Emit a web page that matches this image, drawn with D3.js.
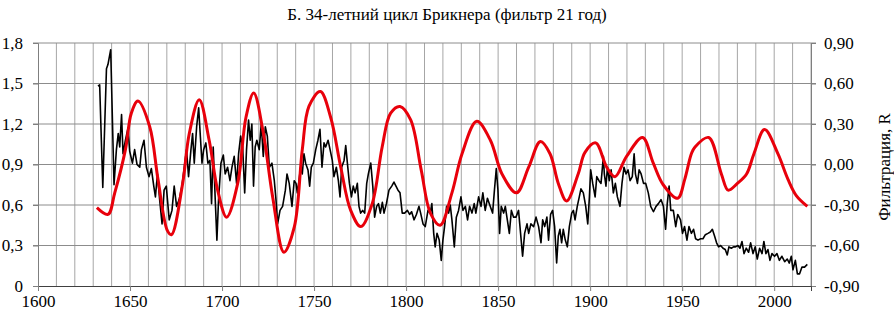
<!DOCTYPE html>
<html>
<head>
<meta charset="utf-8">
<script src="https://cdn.jsdelivr.net/npm/d3@7"></script>
<style>
  body { margin: 0; background: #fff; }
  text { font-family: "Liberation Serif", "Times New Roman", serif; fill: #000; }
</style>
</head>
<body>
<div id="chart"></div>
<script>
// ---- data ----
const title = 'Б.  34-летний цикл Брикнера (фильтр 21 год)';
const rightTitle = 'Фильтрация, R';

const yearTicks = [1600, 1650, 1700, 1750, 1800, 1850, 1900, 1950, 2000];
const leftTicks = [0, 0.3, 0.6, 0.9, 1.2, 1.5, 1.8];
const leftLabels = ['0', '0,3', '0,6', '0,9', '1,2', '1,5', '1,8'];
const rightTicks = [-0.9, -0.6, -0.3, 0, 0.3, 0.6, 0.9];
const rightLabels = ['-0,90', '-0,60', '-0,30', '0,00', '0,30', '0,60', '0,90'];

// black: annual index (left axis)
const index = [
  [1632.6,1.48],[1633.5,1.49],[1635.2,0.73],[1637.2,1.61],[1638,1.64],[1639.5,1.75],[1641.3,0.75],
  [1642.6,1.01],[1643.6,1.13],[1644.4,1.03],[1645.4,1.27],[1646.2,0.98],[1647.5,1.08],[1648.9,1.17],
  [1649.8,1.0],[1651.3,0.91],[1652.5,1.01],[1653.8,0.9],[1655.3,0.88],[1656.2,1.01],[1657.6,1.08],
  [1658.9,0.88],[1660.3,0.81],[1661.6,0.87],[1662.9,0.74],[1663.8,0.66],[1664.9,0.83],[1666.1,0.64],
  [1667.4,0.46],[1668.5,0.71],[1669.7,0.74],[1671.3,0.49],[1672.8,0.56],[1674,0.74],[1675.3,0.59],
  [1676.7,0.64],[1678.2,0.74],[1679.5,0.88],[1680.7,1.01],[1681.8,0.81],[1683.1,1.01],[1684,1.13],
  [1684.9,0.91],[1686.2,1.18],[1687.3,1.32],[1688.2,1.11],[1689.1,0.91],[1690,1.01],[1691.2,1.06],
  [1692.3,0.91],[1693.4,0.93],[1694.3,0.61],[1695.2,1.03],[1696.3,0.64],[1697.2,0.34],[1698.1,0.64],
  [1699.4,0.91],[1700.7,0.97],[1701.7,0.83],[1703,0.88],[1704.3,0.78],[1705.4,0.88],[1706.6,0.96],
  [1707.9,0.76],[1709,0.98],[1710.1,1.11],[1711.2,1.03],[1712.3,0.69],[1713.3,1.01],[1714.4,1.23],
  [1715.3,1.08],[1716.2,1.2],[1717.1,0.74],[1718,1.03],[1718.9,1.08],[1720.2,1.01],[1721.3,1.2],
  [1722.4,0.96],[1723.5,1.18],[1724.6,1.11],[1725.7,0.88],[1727.1,0.91],[1728.4,0.78],[1729.3,0.64],
  [1730.2,0.46],[1731.5,0.56],[1732.9,0.59],[1734.4,0.71],[1735.3,0.83],[1736.5,0.76],[1738,0.59],
  [1739.2,0.78],[1740.2,0.76],[1740.9,0.69],[1741.8,0.78],[1742.7,0.88],[1743.6,0.83],[1744.5,0.98],
  [1745.4,0.91],[1746.7,0.86],[1747.6,0.74],[1748.5,0.88],[1749.6,0.91],[1750.9,1.01],[1752.1,1.08],
  [1753.2,1.16],[1754.3,0.88],[1755.4,1.06],[1756.3,1.03],[1757.6,1.08],[1758.7,1.01],[1759.9,0.93],
  [1760.8,0.81],[1762.1,0.88],[1763.2,0.78],[1764.1,0.66],[1765,0.88],[1766.3,0.93],[1767.2,1.04],
  [1768.1,0.91],[1769.2,0.76],[1770.3,0.66],[1771.3,0.74],[1772.3,0.69],[1773.5,0.76],[1774.4,0.59],
  [1775.3,0.54],[1776.4,0.56],[1777.5,0.54],[1778.6,0.76],[1779.5,0.83],[1780.8,0.91],[1781.9,0.74],
  [1782.9,0.51],[1784,0.59],[1785,0.61],[1786,0.54],[1787.1,0.62],[1788,0.54],[1789.3,0.61],
  [1790.7,0.71],[1792.2,0.74],[1793.4,0.77],[1794.5,0.74],[1795.6,0.71],[1796.7,0.69],[1797.9,0.54],
  [1799.2,0.54],[1800.7,0.56],[1801.9,0.53],[1803,0.55],[1804.3,0.49],[1805.6,0.53],[1807,0.59],
  [1807.9,0.54],[1809.2,0.46],[1810.4,0.44],[1811.9,0.56],[1813.1,0.54],[1814,0.61],[1815,0.39],
  [1815.8,0.29],[1816.8,0.39],[1818,0.34],[1819.1,0.19],[1820,0.34],[1820.9,0.44],[1822,0.59],
  [1823.1,0.54],[1824,0.6],[1824.9,0.49],[1826.2,0.29],[1827.3,0.51],[1828.5,0.56],[1829.8,0.66],
  [1830.9,0.56],[1832.2,0.59],[1833.4,0.49],[1834.5,0.59],[1835.8,0.54],[1837,0.61],[1837.9,0.54],
  [1839.4,0.66],[1840.7,0.59],[1841.7,0.69],[1843,0.56],[1844.2,0.65],[1845.7,0.59],[1847,0.54],
  [1848,0.71],[1849,0.87],[1849.9,0.71],[1850.8,0.39],[1851.7,0.59],[1853,0.54],[1853.9,0.59],
  [1855,0.49],[1856.1,0.39],[1857.2,0.56],[1858.4,0.51],[1859.7,0.51],[1861.1,0.56],[1862.2,0.39],
  [1863.3,0.22],[1864.4,0.39],[1865.7,0.46],[1866.6,0.39],[1867.8,0.46],[1869.3,0.44],[1870.6,0.51],
  [1872,0.44],[1873.3,0.32],[1874.2,0.49],[1875.3,0.44],[1876.5,0.51],[1877.4,0.34],[1878.5,0.53],
  [1879.6,0.56],[1880.7,0.44],[1881.8,0.17],[1882.7,0.37],[1883.6,0.42],[1884.5,0.32],[1885.4,0.42],
  [1886.5,0.34],[1887.6,0.29],[1888.7,0.44],[1890,0.54],[1890.9,0.56],[1891.8,0.49],[1893,0.59],
  [1894.1,0.66],[1895,0.72],[1896.3,0.69],[1897.6,0.59],[1898.7,0.46],[1899.6,0.66],[1900.3,0.86],
  [1901.4,0.76],[1902.7,0.66],[1903.6,0.81],[1904.8,0.78],[1905.9,0.76],[1907.2,0.96],[1907.7,0.83],
  [1908.6,0.74],[1909.4,0.88],[1910.4,0.78],[1911.4,0.86],[1912.6,0.69],[1913.7,0.76],[1914.8,0.66],
  [1916.2,0.59],[1917.3,0.76],[1918.4,0.88],[1919.5,0.83],[1920.6,0.86],[1921.7,0.78],[1922.9,0.81],
  [1923.9,0.98],[1924.6,0.83],[1925.7,0.76],[1926.6,0.86],[1927.7,0.83],[1929,0.76],[1930.2,0.76],
  [1931.6,0.69],[1932.9,0.59],[1934.4,0.55],[1935.8,0.59],[1937.1,0.61],[1938.5,0.64],[1939.8,0.59],
  [1941,0.42],[1941.9,0.61],[1942.9,0.74],[1943.8,0.56],[1945.2,0.56],[1946.5,0.44],[1947.6,0.53],
  [1949.1,0.49],[1950.2,0.39],[1951.3,0.44],[1952.6,0.34],[1953.7,0.44],[1955,0.39],[1956.2,0.42],
  [1957.3,0.35],[1958.6,0.34],[1960,0.35],[1961.3,0.35],[1962.6,0.38],[1964,0.39],[1965.3,0.4],
  [1966.4,0.42],[1967.6,0.37],[1968.7,0.32],[1969.8,0.29],[1970.9,0.3],[1972.2,0.28],[1973.4,0.27],
  [1974.5,0.23],[1975.4,0.29],[1976.7,0.28],[1977.9,0.29],[1979,0.29],[1980.3,0.3],[1981.4,0.28],
  [1982.5,0.33],[1983.6,0.24],[1984.8,0.28],[1986.1,0.25],[1987.2,0.32],[1988.5,0.24],[1989.7,0.29],
  [1990.8,0.2],[1992.1,0.28],[1993.4,0.24],[1994.4,0.33],[1995.5,0.24],[1996.6,0.27],[1997.7,0.19],
  [1998.8,0.24],[2000.2,0.22],[2001.5,0.24],[2002.8,0.19],[2004.2,0.22],[2005.7,0.18],[2007.1,0.2],
  [2008.2,0.17],[2009.3,0.22],[2010.2,0.12],[2011.5,0.19],[2012.6,0.09],[2013.8,0.09],[2015.1,0.14],
  [2016.5,0.14],[2018,0.16]
];

// red: 21-year filter (right axis, R)
const filtered = [
  [1632,-0.32],[1638,-0.37],[1641.7,-0.21],[1647.5,0.11],[1650.7,0.38],[1654.3,0.47],[1660.7,0.28],
  [1665.2,-0.11],[1670.3,-0.49],[1672.5,-0.52],[1678.6,-0.14],[1682.2,0.23],[1687.6,0.48],[1693,0.18],
  [1697.6,-0.19],[1702.5,-0.39],[1708.5,-0.14],[1713,0.35],[1717.2,0.53],[1722.1,0.26],[1727.5,-0.24],
  [1733.6,-0.65],[1739.3,-0.46],[1743.6,0.11],[1747.2,0.43],[1753.4,0.54],[1759,0.35],[1764.5,-0.02],
  [1769.9,-0.34],[1775.4,-0.46],[1781.6,-0.29],[1787,0.13],[1791.6,0.38],[1796.7,0.43],[1802.5,0.33],
  [1808.2,-0.04],[1813.2,-0.36],[1818.5,-0.45],[1824.9,-0.21],[1830.4,0.08],[1838.4,0.32],[1845.8,0.18],
  [1852.1,-0.07],[1860,-0.21],[1866.6,-0.02],[1873,0.17],[1878.2,0.08],[1882.7,-0.14],[1887.2,-0.27],
  [1893.5,-0.07],[1897.2,0.09],[1903,0.16],[1909,-0.02],[1913.5,-0.09],[1919.8,0.06],[1928.5,0.2],
  [1934.3,0.01],[1939.7,-0.15],[1947.6,-0.25],[1951.4,-0.11],[1955,0.08],[1957,0.13],[1964.4,0.2],
  [1971.3,-0.07],[1975,-0.19],[1980,-0.14],[1985,-0.07],[1989,0.08],[1994.8,0.26],[2002,0.08],
  [2007.5,-0.11],[2012,-0.23],[2018,-0.31]
];

// ---- layout ----
const width = 894, height = 314;
const margin = { top: 43, right: 83, bottom: 28, left: 38 };
const w = width - margin.left - margin.right;
const h = height - margin.top - margin.bottom;

const svg = d3.select('#chart').append('svg').attr('width', width).attr('height', height);
const g = svg.append('g').attr('transform', `translate(${margin.left},${margin.top})`);

const x = d3.scaleLinear().domain([1600, 2020]).range([0, w]);
const yL = d3.scaleLinear().domain([0, 1.8]).range([h, 0]);
const yR = d3.scaleLinear().domain([-0.9, 0.9]).range([h, 0]);

// grid
g.append('g').selectAll('line').data(d3.range(1610, 2021, 10)).enter().append('line')
  .attr('x1', d => x(d)).attr('x2', d => x(d)).attr('y1', 0).attr('y2', h)
  .attr('stroke', '#a6a6a6').attr('stroke-width', 1);
g.append('g').selectAll('line').data(leftTicks.slice(1)).enter().append('line')
  .attr('x1', -5).attr('x2', w + 5).attr('y1', d => yL(d)).attr('y2', d => yL(d))
  .attr('stroke', '#8c8c8c').attr('stroke-width', 1);

// axes
const axL = g.append('g').call(d3.axisLeft(yL).tickValues(leftTicks).tickSize(5)
  .tickFormat((d, i) => leftLabels[i]).tickPadding(10));
const axR = g.append('g').attr('transform', `translate(${w},0)`)
  .call(d3.axisRight(yR).tickValues(rightTicks).tickSize(5)
  .tickFormat((d, i) => rightLabels[i]).tickPadding(8));
const axB = g.append('g').attr('transform', `translate(0,${h})`)
  .call(d3.axisBottom(x).tickValues(yearTicks).tickSize(5).tickFormat(d3.format('d')).tickPadding(4));

[axL, axR, axB].forEach(a => {
  a.attr('font-family', null);
  a.select('.domain').attr('stroke', '#7f7f7f');
  a.selectAll('.tick line').attr('stroke', '#7f7f7f');
  a.selectAll('text').style('font-size', '17px').style('font-family', '"Liberation Serif", "Times New Roman", serif');
});
axB.select('.domain').attr('stroke', '#404040');

// lines
g.append('path').datum(index)
  .attr('fill', 'none').attr('stroke', '#000').attr('stroke-width', 1.6).attr('stroke-linejoin', 'round')
  .attr('d', d3.line().x(d => x(d[0])).y(d => yL(d[1])));

g.append('path').datum(filtered)
  .attr('fill', 'none').attr('stroke', '#e8000b').attr('stroke-width', 3)
  .attr('d', d3.line().x(d => x(d[0])).y(d => yR(d[1])).curve(d3.curveCatmullRom));

// titles
svg.append('text').attr('x', 447).attr('y', 20).attr('text-anchor', 'middle')
  .style('font-size', '17px').text(title);
svg.append('text').attr('transform', 'translate(890,167) rotate(-90)').attr('text-anchor', 'middle')
  .style('font-size', '17px').text(rightTitle);
</script>
</body>
</html>
